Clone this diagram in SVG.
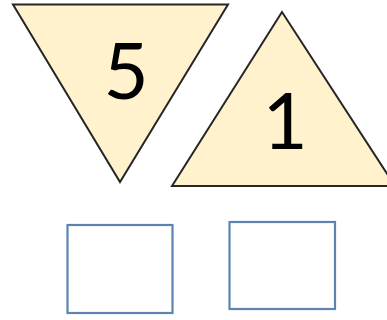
<svg xmlns="http://www.w3.org/2000/svg" width="387" height="320" viewBox="0 0 387 320">
<style>
.tri{fill:#FFF2CC;stroke:#262626;stroke-width:2;stroke-linejoin:miter}
.box{fill:#FFFFFF;stroke:#5B84B1;stroke-width:2.2}
.num{font-family:Lato,"Liberation Sans",sans-serif;font-size:78px;fill:#000;text-anchor:middle}
</style>
<rect width="387" height="320" fill="#FFFFFF"/>
<g id="tri5">
<polygon class="tri" points="13,4.5 228,4.5 120,182"/>
<text class="num" x="126" y="99">5</text>
</g>
<g id="tri1">
<polygon class="tri" points="282,12 172,186 395,186"/>
<text class="num" x="285" y="149">1</text>
</g>
<g id="box1">
<rect class="box" x="67.5" y="225" width="105" height="88"/>
</g>
<g id="box2">
<rect class="box" x="229.5" y="222" width="105.5" height="87"/>
</g>
<g id="connectors"/>
</svg>
